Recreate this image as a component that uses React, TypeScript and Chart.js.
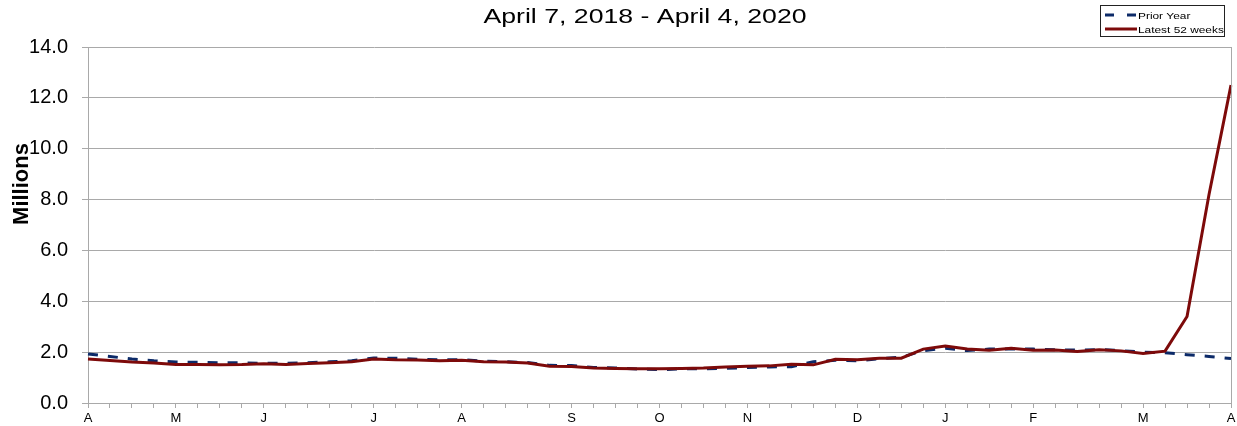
import React, { useEffect, useRef } from 'react';
import { Chart, registerables } from 'chart.js';

Chart.register(...registerables);

// Month letters shown under the 53 weekly points (week ending Apr 6, 2019 ... Apr 4, 2020)
const weekTicks: string[] = [
  'A', '', '', '',
  'M', '', '', '',
  'J', '', '', '', '',
  'J', '', '', '',
  'A', '', '', '', '',
  'S', '', '', '',
  'O', '', '', '',
  'N', '', '', '', '',
  'D', '', '', '',
  'J', '', '', '',
  'F', '', '', '', '',
  'M', '', '', '',
  'A',
];

const priorYear: number[] = [
  1.93, 1.83, 1.73, 1.66, 1.61, 1.60, 1.58, 1.58, 1.56, 1.56,
  1.58, 1.62, 1.66, 1.77, 1.76, 1.72, 1.70, 1.70, 1.65, 1.62,
  1.59, 1.48, 1.47, 1.40, 1.38, 1.34, 1.31, 1.34, 1.35, 1.36,
  1.40, 1.42, 1.43, 1.62, 1.68, 1.66, 1.74, 1.80, 2.06, 2.15,
  2.06, 2.12, 2.12, 2.12, 2.09, 2.08, 2.10, 2.06, 2.00, 1.98,
  1.90, 1.83, 1.75,
];

const latest52: number[] = [
  1.73, 1.67, 1.61, 1.57, 1.51, 1.51, 1.50, 1.51, 1.54, 1.51,
  1.55, 1.58, 1.62, 1.73, 1.70, 1.69, 1.66, 1.68, 1.62, 1.61,
  1.57, 1.45, 1.44, 1.38, 1.36, 1.35, 1.35, 1.36, 1.38, 1.42,
  1.45, 1.46, 1.52, 1.50, 1.72, 1.70, 1.76, 1.76, 2.12, 2.24,
  2.12, 2.07, 2.15, 2.07, 2.08, 2.03, 2.09, 2.05, 1.95, 2.04,
  3.40, 8.20, 12.50,
];

const seriesNames: string[] = ['Prior Year', 'Latest 52 weeks'];
const titleText = 'April 7, 2018 - April 4, 2020';
const yTitleText = 'Millions';

const FONT = '"Liberation Sans", Arial, Helvetica, sans-serif';
const BLUE = '#0c2a68';
const RED = '#7d0a0a';
const GRID = '#a9a9a9';

const decor = {
  id: 'decor',
  afterDraw(chart: any) {
    const ctx: CanvasRenderingContext2D = chart.ctx;
    const a = chart.chartArea;
    ctx.save();

    // right frame line
    ctx.strokeStyle = GRID;
    ctx.lineWidth = 1;
    ctx.beginPath();
    ctx.moveTo(Math.round(a.right) + 0.5, a.top);
    ctx.lineTo(Math.round(a.right) + 0.5, a.bottom);
    ctx.stroke();

    // title
    ctx.save();
    ctx.fillStyle = '#000';
    ctx.font = `21px ${FONT}`;
    ctx.textAlign = 'center';
    ctx.textBaseline = 'alphabetic';
    ctx.translate(645, 22.5);
    ctx.scale(1.27, 1);
    ctx.fillText(titleText, 0, 0);
    ctx.restore();

    // y-axis title
    ctx.save();
    ctx.fillStyle = '#000';
    ctx.font = `bold 22px ${FONT}`;
    ctx.textAlign = 'center';
    ctx.textBaseline = 'alphabetic';
    ctx.translate(28, 184);
    ctx.rotate(-Math.PI / 2);
    ctx.fillText(yTitleText, 0, 0);
    ctx.restore();

    // legend
    ctx.save();
    ctx.fillStyle = '#fff';
    ctx.fillRect(1100.5, 5.5, 124, 31);
    ctx.strokeStyle = '#222';
    ctx.lineWidth = 1;
    ctx.strokeRect(1100.5, 5.5, 124, 31);

    ctx.lineWidth = 3;
    ctx.strokeStyle = BLUE;
    ctx.setLineDash([9, 13]);
    ctx.beginPath();
    ctx.moveTo(1105, 15);
    ctx.lineTo(1137, 15);
    ctx.stroke();
    ctx.setLineDash([]);
    ctx.strokeStyle = RED;
    ctx.beginPath();
    ctx.moveTo(1105, 29);
    ctx.lineTo(1137, 29);
    ctx.stroke();

    ctx.fillStyle = '#000';
    ctx.font = `9.5px ${FONT}`;
    ctx.textAlign = 'left';
    ctx.textBaseline = 'alphabetic';
    ctx.save();
    ctx.translate(1138, 18.5);
    ctx.scale(1.25, 1);
    ctx.fillText(seriesNames[0], 0, 0);
    ctx.restore();
    ctx.save();
    ctx.translate(1138, 32.5);
    ctx.scale(1.25, 1);
    ctx.fillText(seriesNames[1], 0, 0);
    ctx.restore();
    ctx.restore();

    ctx.restore();
  },
};

export default function App() {
  const ref = useRef<HTMLCanvasElement | null>(null);

  useEffect(() => {
    if (!ref.current) return;
    const chart = new Chart(ref.current, {
      type: 'line',
      data: {
        labels: weekTicks,
        datasets: [
          {
            label: seriesNames[0],
            data: priorYear,
            borderColor: BLUE,
            backgroundColor: BLUE,
            borderWidth: 3,
            borderDash: [10, 10],
            pointRadius: 0,
            tension: 0,
            fill: false,
            order: 1,
          },
          {
            label: seriesNames[1],
            data: latest52,
            borderColor: RED,
            backgroundColor: RED,
            borderWidth: 3,
            pointRadius: 0,
            tension: 0,
            fill: false,
            order: 0,
          },
        ],
      },
      options: {
        animation: false,
        responsive: true,
        maintainAspectRatio: false,
        layout: { padding: { top: 47, right: 6, left: 0, bottom: 0 } },
        plugins: {
          legend: { display: false },
          title: { display: false },
          tooltip: { enabled: false },
        },
        scales: {
          x: {
            type: 'category',
            offset: false,
            grid: {
              display: true,
              drawOnChartArea: false,
              drawTicks: true,
              tickLength: 5,
              color: GRID,
            },
            border: { display: true, color: GRID },
            ticks: {
              autoSkip: false,
              maxRotation: 0,
              minRotation: 0,
              padding: 3,
              color: '#000',
              font: { family: FONT, size: 13 },
            },
            afterFit(s: any) {
              s.height = 23;
              s.paddingLeft = 0;
              s.paddingRight = 0;
            },
          },
          y: {
            min: 0,
            max: 14,
            ticks: {
              stepSize: 2,
              padding: 14,
              color: '#000',
              font: { family: FONT, size: 20 },
              callback: (v: any) => Number(v).toFixed(1),
            },
            grid: { color: GRID, tickLength: 6, drawTicks: true },
            border: { display: true, color: GRID },
            afterFit(s: any) {
              s.width = 88;
              s.paddingTop = 0;
              s.paddingBottom = 0;
            },
          },
        },
      },
      plugins: [decor],
    });
    return () => chart.destroy();
  }, []);

  return (
    <div style={{ position: 'absolute', left: 0, top: 0, width: 1237, height: 426, background: '#fff' }}>
      <canvas ref={ref} />
    </div>
  );
}
